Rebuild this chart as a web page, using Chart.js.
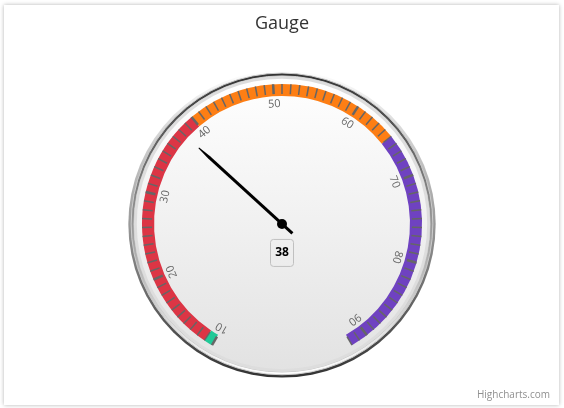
<!DOCTYPE html>
<html>
<head>
<meta charset="utf-8">
<script src="https://cdn.jsdelivr.net/npm/chart.js@4"></script>
<style>
  html, body { margin: 0; padding: 0; background: #fff; }
  #card { position: absolute; left: 4px; top: 5px; width: 555px; height: 400px; background: #fff; box-shadow: 0 0 4px rgba(0,0,0,0.3); }
  #wrap { position: absolute; left: 0; top: 0; width: 564px; height: 408px; }
</style>
</head>
<body>
<div id="card"></div>
<div id="wrap"><canvas id="gauge"></canvas></div>
<script>
// band edges along the gauge axis (first = axis min, last = axis max)
const bandLimits = [10, 11, 40, 65, 92];
const bandColors = ['#20c997', '#dc3545', '#fd7e14', '#6f42c1'];
const tickLabels = ['10', '20', '30', '40', '50', '60', '70', '80', '90'];
const gaugeValue = [38];
const minorStep = 1;

const axisMin = bandLimits[0];
const axisMax = bandLimits[bandLimits.length - 1];
const bandWidths = bandLimits.slice(1).map((v, i) => v - bandLimits[i]);

// angle for a value, taken from the doughnut's own arcs
function valueAngle(meta, v) {
  const arcs = meta.data;
  const a0 = arcs[0].startAngle;
  const a1 = arcs[arcs.length - 1].endAngle;
  return a0 + (v - axisMin) / (axisMax - axisMin) * (a1 - a0);
}

const gaugeDecor = {
  id: 'gaugeDecor',
  beforeDatasetsDraw(chart) {
    const arc = chart.getDatasetMeta(0).data[0];
    const cx = arc.x, cy = arc.y, R = arc.outerRadius + 1;
    const ctx = chart.ctx;
    const disc = (r, c0, c1, border) => {
      const g = ctx.createLinearGradient(0, cy - r, 0, cy + r);
      g.addColorStop(0, c0);
      g.addColorStop(1, c1);
      ctx.beginPath();
      ctx.arc(cx, cy, r, 0, Math.PI * 2);
      ctx.fillStyle = g;
      ctx.fill();
      if (border) { ctx.lineWidth = 1; ctx.strokeStyle = border; ctx.stroke(); }
    };
    ctx.save();
    disc(R * 1.09, '#ffffff', '#333333');
    disc(R * 1.07, '#333333', '#ffffff', '#cccccc');
    disc(R * 1.05, '#ffffff', '#e2e2e2', '#c8c8c8');
    // thin ring 103%-105%
    ctx.beginPath();
    ctx.arc(cx, cy, R * 1.05, 0, Math.PI * 2);
    ctx.arc(cx, cy, R * 1.03, 0, Math.PI * 2, true);
    ctx.fillStyle = '#dddddd';
    ctx.fill();
    ctx.restore();
  },
  afterDatasetsDraw(chart) {
    const meta = chart.getDatasetMeta(0);
    const arc = meta.data[0];
    const cx = arc.x, cy = arc.y, R = arc.outerRadius + 1;
    const ctx = chart.ctx;
    ctx.save();

    // ticks
    for (let v = axisMin; v <= axisMax; v += minorStep) {
      const a = valueAngle(meta, v);
      const major = tickLabels.includes(String(v));
      ctx.beginPath();
      ctx.moveTo(cx + (R - 1) * Math.cos(a), cy + (R - 1) * Math.sin(a));
      ctx.lineTo(cx + (R - 11) * Math.cos(a), cy + (R - 11) * Math.sin(a));
      ctx.lineWidth = major ? 2.5 : 1.5;
      ctx.strokeStyle = '#666666';
      ctx.stroke();
    }

    // labels, rotated along the dial
    ctx.fillStyle = '#666666';
    ctx.font = '11px "Open Sans"';
    ctx.textAlign = 'center';
    ctx.textBaseline = 'middle';
    tickLabels.forEach(t => {
      const a = valueAngle(meta, Number(t));
      const r = R - 21;
      ctx.save();
      ctx.translate(cx + r * Math.cos(a), cy + r * Math.sin(a));
      ctx.rotate(a + Math.PI / 2);
      ctx.fillText(t, 0, 0);
      ctx.restore();
    });

    // needle
    const a = valueAngle(meta, gaugeValue[0]);
    const ux = Math.cos(a), uy = Math.sin(a), nx = -uy, ny = ux;
    const pt = (d, w) => [cx + ux * d + nx * w, cy + uy * d + ny * w];
    const path = [
      pt(-0.1 * R, -1.5), pt(0.7 * R, -1.5), pt(0.8 * R, -0.5),
      pt(0.8 * R, 0.5), pt(0.7 * R, 1.5), pt(-0.1 * R, 1.5)
    ];
    ctx.beginPath();
    path.forEach((p, i) => i ? ctx.lineTo(p[0], p[1]) : ctx.moveTo(p[0], p[1]));
    ctx.closePath();
    ctx.fillStyle = '#000000';
    ctx.fill();
    ctx.beginPath();
    ctx.arc(cx, cy, 5, 0, Math.PI * 2);
    ctx.fill();

    // value box
    ctx.beginPath();
    ctx.roundRect(cx - 11.5, cy + 15.5, 23, 27, 3);
    ctx.lineWidth = 1;
    ctx.strokeStyle = '#c0c0c0';
    ctx.stroke();
    ctx.fillStyle = '#000000';
    ctx.font = 'bold 12px "Open Sans"';
    ctx.fillText(String(gaugeValue[0]), cx, cy + 29);
    ctx.restore();
  }
};

new Chart(document.getElementById('gauge'), {
  type: 'doughnut',
  data: {
    labels: bandColors.map((c, i) => bandLimits[i] + '-' + bandLimits[i + 1]),
    datasets: [{
      data: bandWidths,
      backgroundColor: bandColors,
      borderWidth: 0,
      radius: 140,
      cutout: '91.4%',
      circumference: 300,
      rotation: -150
    }]
  },
  options: {
    responsive: true,
    maintainAspectRatio: false,
    animation: false,
    events: [],
    layout: { padding: { left: 14, right: 14, top: 0, bottom: 0 } },
    plugins: {
      legend: { display: false },
      tooltip: { enabled: false },
      title: {
        display: true,
        text: 'Gauge',
        color: '#333333',
        font: { family: 'Open Sans', size: 18, weight: 'normal' },
        padding: { top: 13, bottom: 5 }
      },
      subtitle: {
        display: true,
        text: 'Highcharts.com',
        position: 'bottom',
        align: 'end',
        color: '#909090',
        font: { family: 'Open Sans', size: 10 },
        padding: { top: 0, bottom: 6.5 }
      }
    }
  },
  plugins: [gaugeDecor]
});
</script>
</body>
</html>
